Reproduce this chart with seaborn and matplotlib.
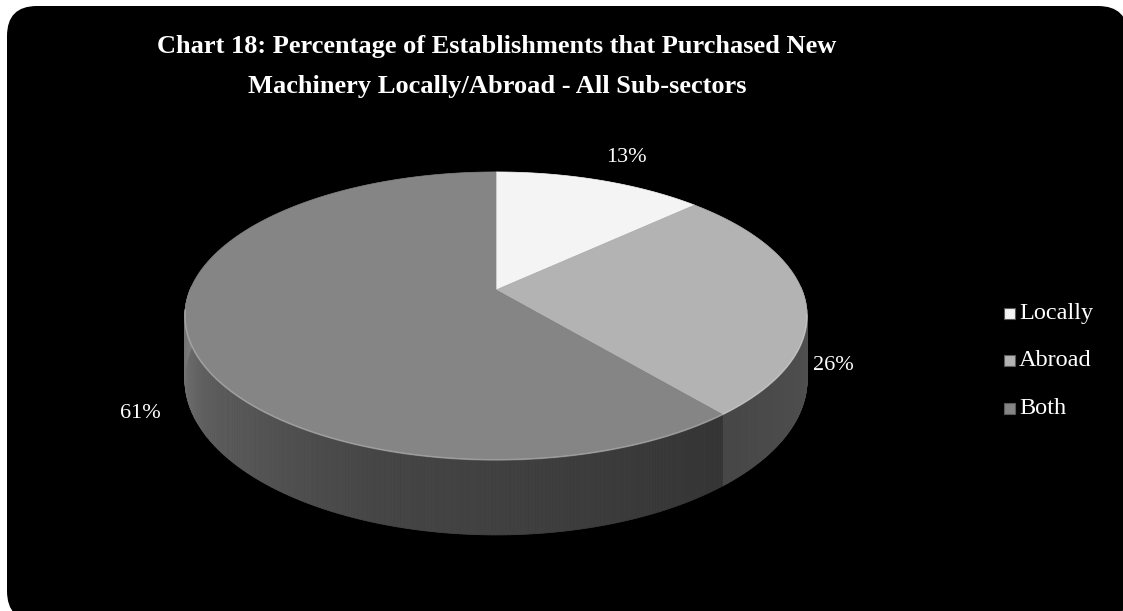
import numpy as np
import matplotlib
matplotlib.use("Agg")
import matplotlib.pyplot as plt
from matplotlib.patches import FancyBboxPatch, Polygon, Rectangle
from matplotlib.collections import PolyCollection
import seaborn as sns

# ---- data ----
categories = ["Locally", "Abroad", "Both"]
shares = [13, 26, 61]
value_labels = ["13%", "26%", "61%"]
title_lines = [
    "Chart 18: Percentage of Establishments that Purchased New",
    "Machinery Locally/Abroad - All Sub-sectors",
]

sns.set_theme(style="white")
plt.rcParams["font.family"] = ["Liberation Serif", "DejaVu Serif"]

top_colors = sns.color_palette(["#f4f4f4", "#b3b3b3", "#858585"])

W, H = 1123, 611
fig = plt.figure(figsize=(W / 100, H / 100), dpi=100)
fig.patch.set_facecolor("white")
ax = fig.add_axes([0, 0, 1, 1])
ax.set_xlim(0, W)
ax.set_ylim(H, 0)
ax.axis("off")

# black rounded panel
panel = FancyBboxPatch((7, 6), W - 2, H + 4, boxstyle="round,pad=0,rounding_size=30",
                       fc="black", ec="none", zorder=0)
ax.add_patch(panel)

# ---- perspective pie geometry ----
cx, cy = 496, 290          # apex of the pie on screen
rx, ry = 306, 139.3        # horizontal / depth radii
persp = 0.18               # perspective strength
thick = 61.5               # disc thickness


def proj(theta, r=1.0, z=0.0):
    u = r * np.sin(theta)
    v = r * np.cos(theta)
    w = 1 + persp * v
    return cx + rx * u / w, cy - ry * v / w + z * thick / w


def side_shade(deg):
    return np.interp(deg, [90, 140, 200, 240, 270], [0.46, 0.40, 0.53, 0.72, 0.92])


fractions = np.array(shares, dtype=float) / np.sum(shares)
bounds = np.concatenate([[0], np.cumsum(fractions)]) * 2 * np.pi

# outer walls
quads, qcols = [], []
for i in range(len(shares)):
    ts = np.linspace(bounds[i], bounds[i + 1], 400)
    base = np.array(top_colors[i])
    for t1, t2 in zip(ts[:-1], ts[1:]):
        tm = 0.5 * (t1 + t2)
        if np.cos(tm) > 0.02:
            continue
        p1, p2 = proj(t1), proj(t2)
        p3, p4 = proj(t2, z=1), proj(t1, z=1)
        quads.append([p1, p2, p3, p4])
        qcols.append(np.clip(base * side_shade(np.degrees(tm)), 0, 1))
walls = PolyCollection(quads, facecolors=qcols, edgecolors=qcols, linewidths=0.6, zorder=2)
ax.add_collection(walls)

# top faces
for i in range(len(shares)):
    ts = np.linspace(bounds[i], bounds[i + 1], 300)
    pts = [proj(0, r=0)] + [proj(t) for t in ts]
    ax.add_patch(Polygon(pts, closed=True, fc=top_colors[i], ec=top_colors[i], lw=0.5, zorder=3))

# soft highlight on the front rim
rim = np.linspace(np.radians(100), np.radians(262), 300)
rx_pts, ry_pts = zip(*[proj(t) for t in rim])
ax.plot(rx_pts, ry_pts, color="white", alpha=0.25, lw=1.2, zorder=4)

# value labels
label_pos = [(626, 158), (833, 366), (140, 413)]
for txt, (lx, ly) in zip(value_labels, label_pos):
    ax.text(lx, ly, txt, color="white", fontsize=16, ha="center", va="center", zorder=5)

# title
for j, line in enumerate(title_lines):
    ax.text(497, 47 + 40 * j, line, color="white", fontsize=19, fontweight="bold",
            ha="center", va="center", zorder=5)

# legend
for j, (name, col) in enumerate(zip(categories, top_colors)):
    y = 313 + 47.5 * j
    ax.add_patch(Rectangle((1004, y - 5.5), 11, 11, fc=col, ec="#5a5a5a", lw=0.8, zorder=5))
    ax.text(1019, y, name, color="white", fontsize=17.5, ha="left", va="center", zorder=5)

fig.savefig("out.png", dpi=100, facecolor=fig.get_facecolor())
